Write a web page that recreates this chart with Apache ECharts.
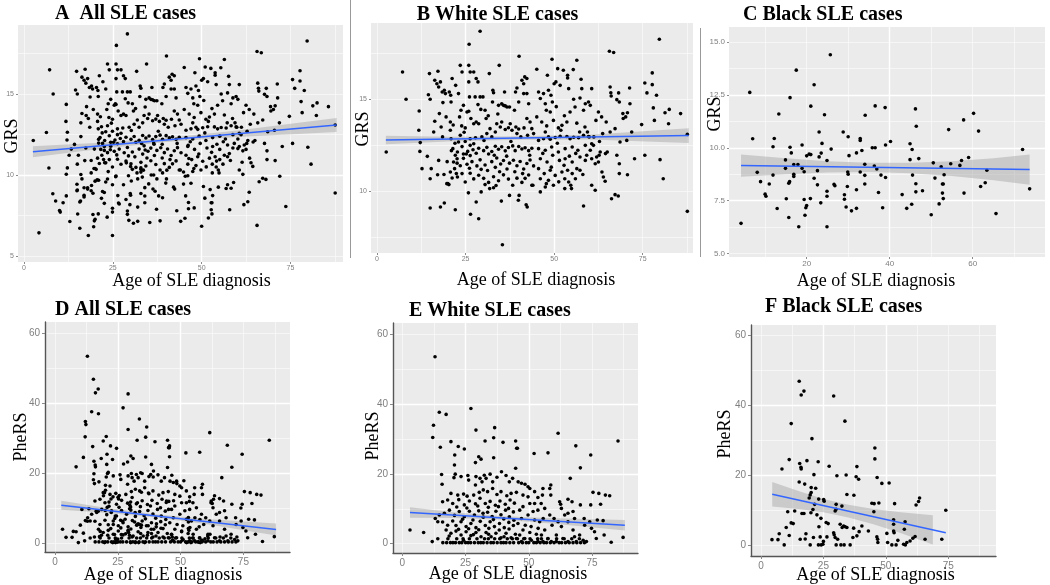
<!DOCTYPE html>
<html><head><meta charset="utf-8">
<script src="https://cdn.jsdelivr.net/npm/echarts@6/dist/echarts.min.js"></script>
<style>html,body{margin:0;padding:0;background:#fff}#c{width:1050px;height:585px}</style>
</head><body><div id="c"></div>
<script>
// ---------- DATA: [age at SLE diagnosis, score] ----------
const whiteGRS = [
[2.6,12.13],[7.2,16.49],[8.2,15.0],[11.9,14.36],[11.8,13.31],[12.2,12.64],[12.1,12.16],[12.7,11.22],[14.2,11.89],[14.8,16.40],[14.5,15.25],[15.0,15.0],[16.0,13.22],[16.3,13.80],[15.0,10.67],[15.0,9.07],[15.3,11.22],[16.3,16.04],[16.9,15.85],[17.2,16.53],[17.4,15.67],[17.9,15.95],[17.6,14.22],[18.1,13.49],[18.4,15.4],[19.0,15.49],[19.3,15.31],[20.4,15.4],[20.8,15.22],[18.6,14.82],[19.5,14.04],[20.7,13.76],[20.9,14.85],[18.5,12.95],[17.4,11.67],[17.1,10.89],[17.9,9.13],[19.0,9.35],[20.7,13.31],[20.9,12.85],[21.4,12.31],[21.6,11.58],[22.1,11.95],[21.9,11.22],[22.6,11.76],[22.4,10.95],[21.2,10.71],[20.0,10.4],[20.3,10.35],[22.1,8.98],[21.2,16.13],[22.2,15.76],[23.0,15.31],[23.5,16.85],[24.0,16.49],[25.9,16.85],[26.0,18.0],[29.1,18.71],[26.3,16.49],[25.9,15.95],[27.3,16.49],[28.0,16.13],[28.5,15.95],[27.7,15.13],[26.1,15.13],[24.4,14.67],[23.7,14.4],[23.3,14.04],[25.4,14.31],[25.9,14.35],[26.5,13.95],[24.9,13.44],[27.3,13.67],[28.0,13.76],[28.7,13.67],[29.1,15.13],[29.9,15.13],[28.5,14.71],[29.3,14.45],[30.5,14.4],[30.8,13.95],[31.7,16.40],[32.7,15.49],[32.9,15.36],[32.6,14.85],[34.5,16.85],[34.3,14.67],[35.2,14.76],[35.7,14.67],[36.2,14.64],[36.7,14.58],[37.4,14.58],[36.0,15.4],[40.1,17.35],[39.5,15.62],[39.1,15.4],[40.9,16.04],[41.4,15.85],[41.7,16.22],[42.3,16.13],[41.4,15.31],[42.3,15.31],[42.8,14.76],[40.0,14.85],[38.8,14.4],[31.0,13.13],[31.9,13.4],[32.4,12.95],[33.4,13.22],[33.8,13.67],[34.8,13.49],[35.2,13.76],[36.2,13.35],[37.1,13.45],[37.6,13.67],[38.1,13.31],[39.2,13.49],[40.0,13.38],[39.5,13.13],[40.6,12.95],[41.5,13.44],[42.3,13.95],[43.2,13.76],[43.7,13.4],[44.2,13.13],[42.5,13.04],[29.6,12.95],[26.3,12.85],[23.5,13.04],[23.0,12.67],[24.9,12.7],[26.3,12.49],[27.3,12.58],[21.0,12.2],
[22.7,12.13],[24.0,12.42],[24.4,12.02],[25.6,12.16],[26.3,11.93],[27.1,12.25],[28.0,12.06],[28.7,12.33],[30.1,12.2],[31.0,12.38],[31.5,12.02],[32.4,12.15],[33.4,12.44],[34.3,12.28],[35.2,12.41],[36.2,12.19],[37.1,12.37],[38.3,12.46],[39.0,12.2],[40.0,12.43],[40.9,12.29],[41.8,12.36],[42.8,12.2],[43.7,12.33],
[22.6,11.52],[23.5,11.38],[24.4,11.78],[25.4,11.46],[26.1,11.24],[26.8,11.6],[28.2,11.37],[29.1,11.7],[30.5,11.42],[31.2,11.12],[32.4,11.6],[33.4,11.29],[33.8,11.8],[34.9,11.47],[35.7,11.66],[36.7,11.2],[37.4,11.52],[38.5,11.68],[39.5,11.38],[40.4,11.61],[41.4,11.2],[42.3,11.5],[43.2,11.69],[44.2,11.37],
[20.7,11.04],[22.7,10.76],[24.0,10.95],[24.9,10.49],[26.3,10.97],[27.3,10.66],[28.7,10.86],[30.1,10.69],[31.5,10.47],[32.9,10.78],[34.3,10.56],[35.7,10.88],[37.1,10.65],[38.3,10.31],[39.5,10.7],[40.9,10.47],[41.8,10.69],[42.8,10.87],[43.7,10.31],
[29.4,9.95],[30.5,10.35],[31.8,10.13],[32.9,10.18],[35.1,9.45],[37.4,9.76],[40.1,9.76],[42.1,9.25],[42.4,9.13],[28.0,9.4],[26.4,8.73],[28.7,8.49],[35.4,7.07],[19.7,10.4],
[24.6,13.2],[27.8,12.9],[30.2,12.75],[33.1,11.95],[36.6,11.9],[38.9,11.05],[41.1,10.95],[43.1,11.95],[25.2,12.02],[29.4,11.18],[34.6,11.05],[37.8,12.7],[22.0,12.6],[19.8,11.6],[18.9,10.9],[25.8,9.9],[33.6,10.3],[39.9,9.5],[21.5,13.6],[23.9,13.55],[31.4,14.1],[34.1,14.2],
[45.1,16.64],[48.1,16.31],[49.4,17.18],[50.0,15.85],[50.5,15.95],[51.0,16.67],[51.7,15.76],[52.6,16.58],[53.8,16.31],[53.8,16.16],[55.4,16.62],[56.4,17.13],[57.6,16.09],[60.6,15.58],[65.6,17.62],[66.8,17.55],[65.8,15.67],[66.0,15.36],[66.1,15.18],[68.2,15.35],[67.7,14.98],[68.4,14.85],[71.3,15.62],[71.4,14.76],[75.6,15.89],[77.7,16.44],[77.7,15.8],[78.9,15.22],[79.7,18.27],[76.2,15.35],[78.0,14.53],[78.3,13.85],[81.3,14.27],[82.5,14.45],[85.7,14.22],[82.3,13.67],[87.6,13.09],[87.6,8.89],[79.9,11.71],[80.8,10.67],[75.6,11.95],[74.7,13.62],[72.7,11.76],[71.9,13.22],[70.5,12.76],[70.7,10.89],[68.6,12.67],[68.4,11.49],[68.4,10.95],[67.7,11.95],[66.2,9.58],[67.2,9.8],[68.1,9.73],[69.5,13.95],[70.2,14.04],[70.7,14.27],[69.4,14.22],[67.2,13.4],[65.8,13.22],[64.7,13.76],[63.4,14.04],[62.5,14.31],[61.8,13.85],[63.7,13.13],[65.0,12.13],[64.5,12.04],[63.5,11.04],[63.9,10.76],[64.4,10.53],[62.5,11.58],[62.0,11.85],[62.7,11.95],[63.0,12.13],[61.1,12.49],[60.6,12.58],[59.9,12.95],[59.4,13.22],[58.7,13.49],[60.2,14.67],[59.7,14.85],[58.3,14.4],[58.8,14.76],[57.8,15.58],[57.3,15.07],[55.9,14.58],[55.5,15.0],[54.5,14.31],[54.1,15.58],[53.6,13.76],[52.2,13.58],[51.2,13.44],[49.8,13.85],[48.9,14.31],[47.8,14.4],[47.5,14.76],[47.0,15.31],[48.4,15.49],[49.1,15.22],[49.5,14.85],[46.1,15.04],[45.6,15.4],[46.5,13.76],[45.1,14.04],[47.5,13.22],[48.4,12.95],[50.3,12.92],[51.9,13.31],[53.6,12.97],[55.5,12.93],[57.2,13.22],
[45.6,12.76],[47.0,12.85],[48.9,12.82],[51.7,12.98],[54.5,12.85],[56.9,12.9],[58.3,13.04],[59.7,12.97],[45.6,12.31],[47.5,12.22],[49.3,12.4],[51.2,12.13],[53.1,12.31],[55.1,12.4],[56.7,12.22],[58.8,12.49],[60.2,12.22],
[46.1,11.76],[48.0,11.58],[49.6,11.95],[51.5,11.67],[53.1,11.76],[55.1,11.58],[57.3,11.85],[58.8,11.67],[60.6,11.76],[61.6,11.49],[45.6,11.22],[47.2,10.95],[48.9,11.13],[50.3,10.85],[52.2,11.04],[53.8,11.13],[55.1,10.95],[56.4,11.22],[57.3,11.13],[46.1,10.67],[47.8,10.4],[48.4,10.58],[49.8,10.31],[53.0,10.67],[54.1,10.49],[54.7,10.31],[56.0,10.67],[44.0,10.31],[46.1,9.95],[47.5,10.22],[53.0,10.13],[54.9,10.13],[58.3,9.18],[60.6,10.31],[61.6,10.04],
[46.8,12.05],[50.9,12.6],[52.8,11.4],[56.1,12.05],[59.2,11.95],[49.2,11.3],[54.3,11.9],[47.9,13.55],[52.9,14.1],[56.4,13.7],[50.6,14.6],[61.2,12.95],[62.8,12.7],[58.1,10.9],[51.3,10.5]
];
const blackGRS = [
[4.2,6.43],[6.3,12.62],[7.0,10.43],[8.1,8.84],[8.9,8.40],[10.0,7.81],[10.2,7.71],[11.0,8.29],[11.9,8.71],[11.9,10.05],[12.2,10.44],[12.9,7.13],[13.3,11.60],[14.9,9.43],[14.9,9.03],[15.1,7.59],[15.7,6.71],[15.7,8.33],[15.9,8.40],[16.0,10.03],[16.0,12.37],[16.3,9.76],[16.9,8.65],[16.9,8.75],[17.5,13.67],[16.9,9.21],[17.9,9.21],[18.1,6.27],[18.9,10.13],[18.9,9.03],[19.4,8.87],[19.4,7.56],[19.6,6.81],[19.8,7.17],[20.0,7.27],[20.0,9.62],[20.6,9.70],[21.0,9.68],[20.9,7.60],[21.0,11.97],[21.8,12.98],[21.8,8.56],[22.6,8.92],[22.6,8.25],[23.0,9.57],[23.0,10.75],[23.4,7.40],[23.5,9.75],[23.7,10.21],[24.3,11.56],[24.9,9.40],[24.9,7.95],[24.9,7.71],[24.9,6.27],[25.7,14.40],[25.9,9.94],[26.6,8.27],[26.8,8.21],[28.8,10.75],[29.1,7.78],[29.1,7.57],[29.5,7.20],[29.9,8.86],[30.0,8.75],[30.0,10.52],[30.2,9.63],[30.8,7.02],[29.8,8.17],[32.0,8.02],[32.0,9.76],[32.9,10.44],[32.9,10.35],[33.3,9.87],[32.9,8.86],[34.0,9.22],[34.0,8.70],[34.0,8.29],[34.1,11.54],[32.0,7.14],[35.8,10.0],[36.5,10.0],[36.3,9.14],[36.9,9.0],[36.5,11.98],[37.3,7.89],[37.9,8.71],[38.3,7.17],[39.0,8.60],[38.9,11.90],[39.0,10.13],[40.2,10.30],[43.0,7.79],[44.1,7.14],[44.9,10.19],[44.9,9.44],[45.4,9.92],[46.2,11.84],[46.4,11.02],[45.5,8.71],[46.3,8.30],[46.3,7.92],[45.3,7.33],[47.0,9.49],[47.9,7.97],[50.0,6.84],[50.5,9.29],[50.9,8.57],[51.9,7.35],[52.4,9.10],[52.7,8.29],[52.9,8.29],[53.1,8.73],[52.7,7.86],[52.9,7.60],[54.2,10.86],[54.7,9.25],[56.9,9.17],[57.3,9.40],[57.8,11.32],[57.9,7.86],[59.0,9.54],[60.2,11.63],[61.4,10.79],[61.9,8.17],[63.0,8.35],[63.4,8.94],[65.6,6.89],[72.0,9.92],[73.7,8.06]
];
const whitePheRS = [
[12.9,53.5],[3.0,3.9],[8.4,3.2],[14.6,37.6],[17.3,37.0],[12.3,33.9],[12.0,30.4],[15.0,27.6],[19.2,29.2],[20.7,25.4],[22.1,27.8],[24.5,27.1],[27.1,38.7],[29.1,32.5],[30.2,24.9],[31.1,24.2],[28.9,23.2],[32.7,29.4],[36.1,30.3],[36.5,33.2],[36.1,24.6],[39.8,29.0],[44.8,29.4],[45.2,27.3],[44.8,21.6],[20.6,22.5],[20.9,19.9],[15.5,19.8],[15.7,17.0],[20.4,18.9],[23.2,19.2],[25.9,19.5],[26.2,18.2],[28.9,16.8],[29.1,19.2],[30.7,18.7],[31.5,17.7],[32.4,19.6],[33.1,18.7],[34.7,19.9],[35.7,17.7],[37.4,19.0],[39.2,20.6],[41.0,19.5],[42.3,17.7],[43.6,18.7],
[19.2,14.4],[21.9,13.9],[24.2,14.2],[25.6,13.6],[28.2,13.9],[30.4,14.7],[32.0,15.4],[33.7,14.9],[35.7,15.8],[37.4,14.1],[39.0,14.9],[41.3,13.7],[43.0,14.4],[15.9,12.0],[17.9,12.5],[19.9,11.5],[22.3,12.6],[24.5,11.1],[26.5,12.2],[28.9,11.4],[30.7,13.0],[32.8,11.5],[34.7,12.1],[36.8,11.0],[38.6,12.2],[40.7,11.3],[42.6,12.5],[44.3,11.6],
[14.6,8.2],[16.6,8.7],[18.6,9.6],[20.6,8.1],[22.5,9.2],[24.5,7.7],[26.5,9.3],[28.5,8.2],[30.2,9.4],[32.0,7.6],[33.7,9.0],[35.5,7.8],[37.0,9.3],[39.0,8.3],[40.8,9.6],[42.3,7.7],[43.9,9.1],[13.0,7.2],[14.0,6.3],[15.9,6.2],[17.9,5.3],[19.9,6.5],[21.2,5.2],[23.2,6.3],[25.2,4.9],[27.1,5.8],[29.1,4.6],[30.8,6.4],[32.8,5.2],[34.7,6.3],[36.4,4.9],[38.4,5.8],[40.3,4.6],[42.1,6.1],[43.9,5.2],
[17.3,3.9],[19.2,3.0],[21.2,3.6],[23.2,2.5],[25.2,3.4],[27.1,2.3],[29.1,3.2],[31.1,2.0],[33.1,3.2],[35.1,2.0],[37.0,3.0],[39.0,1.7],[41.0,3.0],[43.0,1.7],[44.7,2.7],
[21.5,10.5],[25.5,10.2],[29.8,10.8],[34.0,10.4],[38.0,10.6],[42.0,10.1],[23.8,7.0],[27.9,6.8],[31.9,8.7],[36.0,6.9],[40.1,7.1],[44.1,6.7],[22.2,4.1],[26.2,4.3],[30.2,4.0],[34.2,4.4],[38.3,3.9],[42.2,4.2],[18.5,2.2],[24.2,1.0],[28.1,2.6],[34.1,2.7],[40.2,2.0],
[16.0,0.3],[17.5,0.3],[19.0,0.3],[20.0,0.3],[21.0,0.3],[22.5,0.3],[23.5,0.3],[25.0,0.3],[26.0,0.3],[27.0,0.3],[28.5,0.3],[30.0,0.3],[31.0,0.3],[32.0,0.3],[33.5,0.3],[35.0,0.3],[36.0,0.3],[37.5,0.3],[39.0,0.3],[40.0,0.3],[41.0,0.3],[42.5,0.3],[44.0,0.3],[11.8,0.6],
[14.0,1.4],[18.0,1.4],[21.5,1.4],[24.0,1.4],[26.5,1.4],[29.5,1.4],[32.5,1.4],[34.0,1.4],[36.5,1.4],[38.5,1.4],[41.5,1.4],[43.5,1.4],
[61.6,31.6],[85.3,29.4],[68.6,28.0],[74.5,25.4],[52.1,25.8],[57.6,26.0],[45.5,27.3],[70.4,21.7],[66.4,18.7],[75.4,14.7],[77.7,14.4],[80.3,13.9],[82.0,13.7],[74.5,11.1],[78.4,11.3],[77.1,6.8],[79.4,6.6],[87.3,1.8],[82.6,0.4],[79.8,2.5],[76.0,3.4],[74.8,4.4],[76.7,1.5],[71.5,1.0],[70.1,2.5],[70.4,11.1],[67.1,12.0],[65.5,12.7],[62.2,12.0],[62.6,11.3],[62.9,10.1],[65.5,8.7],[67.5,9.2],[68.1,7.2],[64.2,8.2],[61.6,6.3],[62.9,4.9],[65.5,6.3],[67.5,3.9],[68.1,2.0],[65.5,0.6],[63.5,1.5],[60.9,2.5],[58.9,0.6],[57.6,1.5],[56.3,3.9],[59.2,5.3],[60.0,7.2],[58.3,8.2],[55.7,7.2],[56.3,10.1],[54.9,11.5],[58.7,16.8],[58.3,15.8],[58.7,13.9],[55.6,15.8],[55.4,13.9],[53.6,13.2],[52.3,14.9],[50.4,15.8],[49.7,16.3],[48.5,17.0],[47.1,17.3],[45.8,17.7],[45.1,14.7],[47.7,13.9],[49.7,13.4],[50.4,11.5],[52.3,11.5],[47.7,10.6],[46.4,9.6],[51.7,9.2],[53.6,9.6],[49.7,8.2],[47.1,7.2],[52.3,6.8],[54.3,6.3],[45.7,5.8],[48.6,5.3],[50.9,4.9],[53.7,4.4],[47.7,3.9],[50.4,3.2],[53.0,2.7],[55.0,2.5],[46.4,2.5],[45.1,1.5],[48.4,1.5],[51.0,1.0],[53.6,0.6],[55.6,0.6],[47.1,0.6],[60.9,0.6],[72.8,0.6],[68.8,0.6],[74.1,6.3],[71.9,7.2],[72.1,5.3],
[46.0,0.3],[47.5,0.3],[49.0,0.3],[50.0,0.3],[52.0,0.3],[53.0,0.3],[54.5,0.3],[56.0,0.3],[57.0,0.3],[58.5,0.3],[60.0,0.3],[62.0,0.3],[63.0,0.3],[64.5,0.3],[66.0,0.3],[67.5,0.3],[69.0,0.3],[70.5,0.3],[72.0,0.3],
[45.5,1.4],[48.0,1.4],[50.5,1.4],[53.5,1.4],[55.0,1.4],[57.5,1.4],[61.0,1.4],[64.0,1.4],[67.0,1.4],[70.0,1.4]
];
const blackPheRS = [
[15.3,46.9],[16.1,43.0],[17.2,44.1],[29.1,42.7],[33.6,35.5],[12.1,34.8],[20.4,30.5],[11.3,24.5],[8.4,21.8],[15.5,23.4],[16.0,22.3],[16.1,21.8],[18.4,24.2],[22.9,23.9],[27.3,22.6],[21.2,20.2],[15.3,18.1],[17.5,17.5],[20.1,16.5],[21.9,16.3],[20.1,15.1],[19.7,14.4],[19.3,13.5],[30.4,19.9],[34.1,20.1],[38.4,22.5],[38.1,19.6],[39.1,18.9],[34.4,14.5],[37.2,14.3],[45.6,27.8],[45.6,24.7],[46.5,19.4],[48.4,17.7],[51.3,17.8],[44.4,12.0],[45.3,11.9],[47.2,12.1],[45.2,9.6],[53.5,11.9],[63.5,13.5],[63.1,12.5],[62.1,11.5],[74.0,10.0],[23.1,13.2],[25.1,13.1],[25.3,12.6],[30.1,11.7],[30.1,10.3],[29.7,9.8],[32.4,11.2],[21.5,11.7],[20.8,10.2],[16.4,9.1],[17.2,9.1],[13.5,9.8],[10.7,9.6],[12.1,6.4],[12.9,6.2],[10.1,5.1],[11.3,2.8],[7.3,3.3],[4.4,1.6],[6.8,1.6],[9.3,0.1],[15.7,1.7],[18.0,3.3],[17.7,1.8],[20.0,9.3],[22.4,8.7],[24.0,7.7],[26.1,6.5],[26.9,6.2],[23.2,5.3],[19.7,0.1],[21.0,2.2],[23.7,2.4],[25.0,1.1],[23.0,0.1],[24.1,0.1],[24.8,0.3],[26.4,2.4],[29.1,3.6],[29.3,3.0],[29.7,2.2],[30.7,1.7],[30.1,0.1],[32.0,0.1],[33.3,0.1],[31.7,6.0],[33.1,5.5],[32.5,5.1],[33.7,5.3],[34.4,5.1],[35.7,0.1],[36.8,2.2],[37.1,4.9],[38.4,2.7],[39.3,3.9],[40.4,5.5],[43.0,4.1],[46.4,2.4],[46.7,1.7],[46.8,0.8],[50.4,3.4],[50.7,0.8],[52.4,0.1],[53.1,7.3],[53.1,6.0],[53.1,4.1],[53.3,3.6],[54.1,0.1],[54.8,1.4],[57.7,6.7],[57.4,4.6],[57.1,0.3],[57.8,0.1],[58.4,0.8],[59.7,1.2],[60.8,2.0],[61.7,2.5],[65.7,1.7],[72.4,1.7]
];
// All cases = White + Black
const allGRS = whiteGRS.concat(blackGRS);
const allPheRS = whitePheRS.concat(blackPheRS);

// Fitted lines [age, fit] and confidence bands (ages, lower, upper)
const fitA = [[2.5,11.44],[88,13.09]];
const bandAgesA = [2.5,20,40,60,88], bandLowA = [11.10,11.58,12.04,12.35,12.66], bandHighA = [11.78,11.98,12.28,12.75,13.52];
const fitB = [[2.5,12.78],[88,13.02]];
const bandAgesB = [2.5,20,40,60,88], bandLowB = [12.55,12.70,12.80,12.81,12.62], bandHighB = [13.01,12.96,12.98,13.07,13.42];
const fitC = [[4.2,9.16],[73.7,8.97]];
const bandAgesC = [4.2,15,25,35,45,55,65,73.7], bandLowC = [8.63,8.75,8.83,8.86,8.80,8.67,8.47,8.25], bandHighC = [9.69,9.51,9.37,9.30,9.30,9.37,9.51,9.69];
const fitD = [[2.5,10.8],[88,3.84]];
const bandAgesD = [2.5,20,40,60,88], bandLowD = [9.5,8.68,7.30,5.42,2.14], bandHighD = [12.1,10.08,8.2,6.82,5.54];
const fitE = [[3,8.9],[88,5.3]];
const bandAgesE = [3,20,40,60,88], bandLowE = [7.4,7.38,6.83,5.69,3.8], bandHighE = [10.4,8.98,7.83,7.29,6.8];
const fitF = [[4.5,14.6],[74,3.6]];
const bandAgesF = [4.5,15,25,35,45,55,68.8], bandLowF = [11.1,10.34,9.46,7.97,5.99,3.71,0.22], bandHighF = [18.1,15.54,13.26,11.57,10.39,9.51,8.62];

// Tick labels
const xTicksAge = [0,25,50,75];
const xTicksBlackGRS = [20,40,60];
const yTicksGRS = [5,10,15];
const yTicksBlackGRS = [5.0,7.5,10.0,12.5,15.0];
const yTicksPheRS = [0,20,40,60];

const titles = ['A  All SLE cases','B White SLE cases','C Black SLE cases','D All SLE cases','E White SLE cases','F Black SLE cases'];
const xTitle = 'Age of SLE diagnosis';

// ---------- LAYOUT ----------
const panels = [
 {data:allGRS, fit:fitA, ages:bandAgesA, lo:bandLowA, hi:bandHighA, ylab:'GRS', box:[18,25,343,262], x:[-1.7,89.8,25,xTicksAge], y:[4.63,19.26,5,yTicksGRS], fs:7, ydec:0, row:0,
  t:[55,13.5], xt:[191.5,281], yt:[12,136]},
 {data:whiteGRS, fit:fitB, ages:bandAgesB, lo:bandLowB, hi:bandHighB, ylab:'GRS', box:[371,23,693,253], x:[-1.7,89.2,25,xTicksAge], y:[6.62,19.16,5,yTicksGRS], fs:7, ydec:0, row:0,
  t:[416.7,14.5], xt:[536,280.5], yt:[363.5,129]},
 {data:blackGRS, fit:fitC, ages:bandAgesC, lo:bandLowC, hi:bandHighC, ylab:'GRS', box:[729,27,1045,257], x:[1.3,77.4,20,xTicksBlackGRS], y:[4.84,15.71,2.5,yTicksBlackGRS], fs:8, ydec:1, row:0,
  t:[743,15], xt:[876,281.5], yt:[715,114]},
 {data:allPheRS, fit:fitD, ages:bandAgesD, lo:bandLowD, hi:bandHighD, ylab:'PheRS', box:[45,322,290,552], x:[-3.98,93.55,25,xTicksAge], y:[-2.6,63.3,20,yTicksPheRS], fs:10, ydec:0, row:1,
  t:[55,310], xt:[163,575], yt:[21,437]},
 {data:whitePheRS, fit:fitE, ages:bandAgesE, lo:bandLowE, hi:bandHighE, ylab:'PheRS', box:[393,323,638,553], x:[-3.72,93.2,25,xTicksAge], y:[-2.66,63.15,20,yTicksPheRS], fs:10, ydec:0, row:1,
  t:[409,311], xt:[508,574], yt:[373,436]},
 {data:blackPheRS, fit:fitF, ages:bandAgesF, lo:bandLowF, hi:bandHighF, ylab:'PheRS', box:[751,325,996,556], x:[-4.0,94.1,25,xTicksAge], y:[-3.07,63.0,20,yTicksPheRS], fs:10, ydec:0, row:1,
  t:[765,306.7], xt:[875.5,575], yt:[725,434]}
];

const grid=[], xAxis=[], yAxis=[], series=[], graphic=[];
const SERIF = '"Liberation Serif","Times New Roman",serif';
panels.forEach((p,i)=>{
  const [l,t,r,b] = p.box;
  grid.push({left:l, top:t, width:r-l, height:b-t, show:true, backgroundColor:'#EBEBEB', borderWidth:0});
  const bottomRow = p.row===1;
  const axLine = {show:bottomRow, onZero:false, lineStyle:{color:'#555', width:1.4}};
  const tick = (vals)=>({show:true, length:bottomRow?3:2, lineStyle:{color:'#8a8a8a', width:1}, customValues:vals});
  const lab = (vals, m, dec)=>({customValues:vals, fontSize:p.fs, color:'#7f7f7f', fontFamily:'"Liberation Sans",Arial,sans-serif', margin:m,
      formatter:(v)=>Number(v).toFixed(dec)});
  const major = {show:true, showMinLine:false, showMaxLine:false, lineStyle:{color:'#ffffff', width:1.4}};
  const minor = {show:true, showMinLine:false, showMaxLine:false, lineStyle:{color:'#fafafa', width:0.7}};
  xAxis.push({gridIndex:i, type:'value', min:p.x[0], max:p.x[1], minInterval:p.x[2], maxInterval:p.x[2],
    axisLine:axLine, axisTick:tick(p.x[3]), axisLabel:lab(p.x[3], bottomRow?5:3, 0), splitLine:major, z:1});
  xAxis.push({gridIndex:i, type:'value', position:'top', min:p.x[0], max:p.x[1], minInterval:p.x[2]/2, maxInterval:p.x[2]/2,
    axisLine:{show:false}, axisTick:{show:false}, axisLabel:{show:false}, splitLine:minor, z:0});
  yAxis.push({gridIndex:i, type:'value', min:p.y[0], max:p.y[1], minInterval:p.y[2], maxInterval:p.y[2],
    axisLine:axLine, axisTick:tick(p.y[3]), axisLabel:lab(p.y[3], bottomRow?5:4, p.ydec), splitLine:major, z:1});
  yAxis.push({gridIndex:i, type:'value', position:'right', min:p.y[0], max:p.y[1], minInterval:p.y[2]/2, maxInterval:p.y[2]/2,
    axisLine:{show:false}, axisTick:{show:false}, axisLabel:{show:false}, splitLine:minor, z:0});
  const xi = 2*i, yi = 2*i;
  series.push({type:'scatter', xAxisIndex:xi, yAxisIndex:yi, data:p.data, symbolSize:3.6, itemStyle:{color:'#000', opacity:1}, silent:true});
  // confidence band: polygon through the band points, positioned with the axes' own scales
  const bandData = p.ages.map((a,k)=>[a, p.lo[k], p.hi[k]]);
  series.push({type:'custom', xAxisIndex:xi, yAxisIndex:yi, data:bandData, encode:{x:0, y:[1,2]}, silent:true, clip:true,
    renderItem:(params, api)=>{
      if (params.dataIndex !== 0) return null;
      const up = bandData.map(d=>api.coord([d[0], d[2]]));
      const dn = bandData.map(d=>api.coord([d[0], d[1]])).reverse();
      return {type:'polygon', shape:{points: up.concat(dn)}, style:{fill:'rgba(153,153,153,0.4)', stroke:null}};
    }});
  series.push({type:'line', xAxisIndex:xi, yAxisIndex:yi, data:p.fit, symbol:'none', lineStyle:{color:'#3366FF', width:1.5}, silent:true});

  graphic.push({type:'text', x:p.t[0], y:p.t[1], style:{text:titles[i], fontFamily:SERIF, fontWeight:'bold', fontSize:20, fill:'#000', align:'left', verticalAlign:'middle'}});
  graphic.push({type:'text', x:p.xt[0], y:p.xt[1], style:{text:xTitle, fontFamily:SERIF, fontSize:18, fill:'#000', align:'center', verticalAlign:'middle'}});
  graphic.push({type:'text', x:p.yt[0], y:p.yt[1], rotation:Math.PI/2, style:{text:p.ylab, fontFamily:SERIF, fontSize:18, fill:'#000', align:'center', verticalAlign:'middle'}});
});
graphic.push({type:'line', shape:{x1:350.5,y1:0,x2:350.5,y2:258}, style:{stroke:'#999', lineWidth:1}});
graphic.push({type:'line', shape:{x1:700.5,y1:28,x2:700.5,y2:257}, style:{stroke:'#999', lineWidth:1}});

const chart = echarts.init(document.getElementById('c'), null, {renderer:'canvas'});
chart.setOption({animation:false, backgroundColor:'#fff', grid, xAxis, yAxis, series, graphic});
</script></body></html>
